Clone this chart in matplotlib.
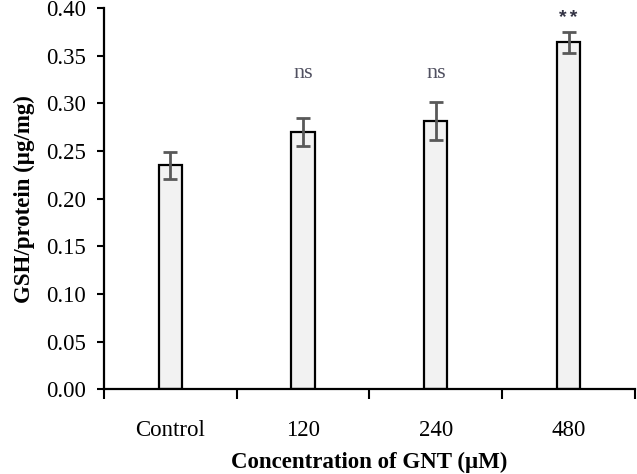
import matplotlib
matplotlib.use("Agg")
from matplotlib import pyplot as plt
import numpy as np

categories = ["Control", "120", "240", "480"]
gsh = [0.235, 0.270, 0.281, 0.364]
err = [0.014, 0.015, 0.020, 0.011]
marks = ["", "ns", "ns", "**"]
mark_y = [0, 0.331, 0.331, 0.390]

plt.rcParams['font.family'] = ['Liberation Serif', 'DejaVu Serif']

fig = plt.figure(figsize=(6.37, 4.74), dpi=100)
ax = fig.add_axes([0.163, 0.179, 0.834, 0.804])

x = np.arange(len(categories))
ax.bar(x, gsh, width=0.175, color='#f2f2f2', edgecolor='black', linewidth=1.6, zorder=2)
ax.errorbar(x, gsh, yerr=err, fmt='none', ecolor='#595959', elinewidth=2,
            capsize=4.8, capthick=2, zorder=3)

for xi, m, my in zip(x, marks, mark_y):
    if m == "ns":
        ax.text(xi, my, m, ha='center', va='center', fontsize=16,
                family='Liberation Serif', color='#505060')
    elif m:
        ax.text(xi, my, m, ha='center', va='center', fontsize=14,
                family='Liberation Mono', color='#333344', fontweight='bold')

ax.set_xlim(-0.5, 3.5)
ax.set_ylim(0, 0.40)
ax.set_yticks(np.arange(0, 0.401, 0.05))
ax.set_yticklabels([f"{v:.2f}" for v in np.arange(0, 0.401, 0.05)])
ax.set_xticks(x)
ax.set_xticklabels(categories)
ax.set_xticks(np.arange(-0.5, 3.6, 1), minor=True)
ax.tick_params(axis='x', which='major', length=0, pad=22, labelsize=16.5)
ax.tick_params(axis='x', which='minor', length=7, width=1.5, direction='out')
ax.tick_params(axis='y', length=5, width=1.5, direction='out', labelsize=16.5, pad=8)

for s in ['top', 'right']:
    ax.spines[s].set_visible(False)
for s in ['left', 'bottom']:
    ax.spines[s].set_linewidth(1.6)

ax.set_xlabel("Concentration of GNT (\u00b5M)", fontsize=16.5, fontweight='bold', labelpad=8)
ax.set_ylabel("GSH/protein (\u00b5g/mg)", fontsize=16.5, fontweight='bold', labelpad=8)

fig.savefig("out.png", dpi=100)
